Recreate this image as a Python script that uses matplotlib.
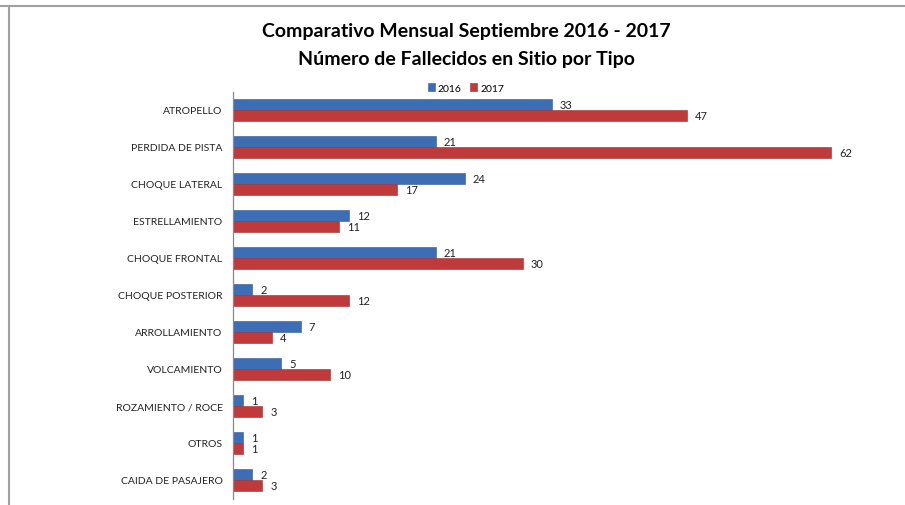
import numpy as np
import matplotlib.pyplot as plt
from matplotlib.lines import Line2D

tipos = ["ATROPELLO", "PERDIDA DE PISTA", "CHOQUE LATERAL", "ESTRELLAMIENTO",
         "CHOQUE FRONTAL", "CHOQUE POSTERIOR", "ARROLLAMIENTO", "VOLCAMIENTO",
         "ROZAMIENTO / ROCE", "OTROS", "CAIDA DE PASAJERO"]
v2016 = [33, 21, 24, 12, 21, 2, 7, 5, 1, 1, 2]
v2017 = [47, 62, 17, 11, 30, 12, 4, 10, 3, 1, 3]

azul = "#3C6DB5"
rojo = "#C0393B"

plt.rcParams['font.family'] = ['Lato', 'DejaVu Sans']

fig = plt.figure(figsize=(9.05, 5.06), dpi=100)
ax = fig.add_axes([233/905, 1-499.5/506, (870-233)/905, (499.5-92.5)/506])

y = np.arange(len(tipos))
h = 0.31
b1 = ax.barh(y - h/2, v2016, height=h, color=azul, edgecolor="#2F5A96", linewidth=0.4, label="2016")
b2 = ax.barh(y + h/2, v2017, height=h, color=rojo, edgecolor="#9C2E2F", linewidth=0.4, label="2017")

for yi, v in zip(y, v2016):
    ax.text(v + 0.85, yi - h/2, str(v), va="center", ha="left", fontsize=8, color="#222222")
for yi, v in zip(y, v2017):
    ax.text(v + 0.85, yi + h/2, str(v), va="center", ha="left", fontsize=8, color="#222222")

ax.set_xlim(0, 66)
ax.set_ylim(len(tipos) - 0.5, -0.5)
ax.set_yticks(y)
ax.set_yticklabels(tipos, fontsize=7.5, color="#222222")
ax.tick_params(axis="y", length=0, pad=7.5)
ax.set_xticks([])
for s in ["top", "right", "bottom"]:
    ax.spines[s].set_visible(False)
ax.spines["left"].set_color("#888888")
ax.spines["left"].set_linewidth(0.9)

fig.text(466/905, 1-31/506, "Comparativo Mensual Septiembre 2016 - 2017",
         ha="center", va="center", fontsize=14, fontweight="bold")
fig.text(466/905, 1-59/506, "Número de Fallecidos en Sitio por Tipo",
         ha="center", va="center", fontsize=14, fontweight="bold")

fig.legend(handles=[b1, b2], labels=["2016", "2017"], loc="center",
           bbox_to_anchor=(466/905, 1-89/506), ncol=2, frameon=False,
           fontsize=7.5, handlelength=0.7, handleheight=0.7, handletextpad=0.3,
           columnspacing=0.8)

# borde del grafico
fig.add_artist(Line2D([0, 1], [1-7/506, 1-7/506], color="#A0A0A0", linewidth=1.5, transform=fig.transFigure))
fig.add_artist(Line2D([9/905, 9/905], [0, 1-7/506], color="#A0A0A0", linewidth=1.5, transform=fig.transFigure))

fig.savefig("out.png", dpi=100)
